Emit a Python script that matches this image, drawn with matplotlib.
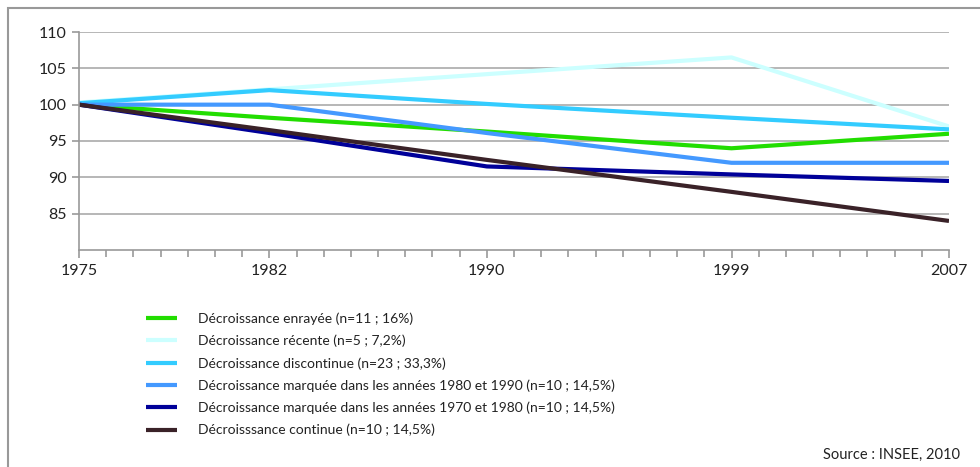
import matplotlib
matplotlib.use("Agg")
import matplotlib.pyplot as plt
from matplotlib.patches import Rectangle

plt.rcParams['font.family'] = ['Lato', 'DejaVu Sans']

# Données (indice base 100 en 1975)
years = [1975, 1982, 1990, 1999, 2007]
labels = [
    "Décroissance enrayée (n=11 ; 16%)",
    "Décroissance récente (n=5 ; 7,2%)",
    "Décroissance discontinue (n=23 ; 33,3%)",
    "Décroissance marquée dans les années 1980 et 1990 (n=10 ; 14,5%)",
    "Décroissance marquée dans les années 1970 et 1980 (n=10 ; 14,5%)",
    "Décroisssance continue (n=10 ; 14,5%)",
]
enrayee = [100, 98.2, 96.3, 94.0, 96.0]
recente = [100.3, 102.1, 104.2, 106.5, 97.0]
discontinue = [100.2, 102.0, 100.1, 98.2, 96.6]
marquee_80_90 = [100, 100, 96.1, 92.0, 92.0]
marquee_70_80 = [100, 96.1, 91.5, 90.4, 89.5]
continue_ = [100, 96.5, 92.4, 88.0, 84.0]

series = [enrayee, recente, discontinue, marquee_80_90, marquee_70_80, continue_]
colors = ["#22dd00", "#ccffff", "#33ccff", "#4499ff", "#000099", "#3a2228"]

fig = plt.figure(figsize=(9.8, 4.67), dpi=100)
ax = fig.add_axes([79 / 980, 1 - 250 / 467, 870 / 980, 218 / 467])

# cadre extérieur (seuls les bords haut et gauche sont visibles)
fig.patches.append(Rectangle((8 / 980, -0.1), 1.2, 1 - 8 / 467 + 0.1,
                             transform=fig.transFigure, fill=False,
                             edgecolor="#999999", linewidth=1.5))

for vals, col, lab in zip(series, colors, labels):
    ax.plot(years, vals, color=col, linewidth=3, label=lab, solid_capstyle="butt")

ax.set_xlim(1975, 2007)
ax.set_ylim(80, 110)
ax.set_yticks([85, 90, 95, 100, 105, 110])
ax.set_xticks(years)
ax.set_xticks(range(1975, 2008), minor=True)
ax.yaxis.grid(True, color="#aaaaaa", linewidth=1.2)
ax.set_axisbelow(True)
for s in ["top", "right"]:
    ax.spines[s].set_visible(False)
for s in ["left", "bottom"]:
    ax.spines[s].set_color("#999999")
    ax.spines[s].set_linewidth(1.2)
ax.tick_params(axis="both", which="both", color="#999999", width=1.2, labelsize=11.5,
               labelcolor="#222222")
ax.tick_params(axis="x", which="major", length=6, pad=4)
ax.tick_params(axis="x", which="minor", length=5)
ax.tick_params(axis="y", length=5, pad=4)

fig.legend(loc="upper left", bbox_to_anchor=(133 / 980, 1 - 300 / 467), frameon=False,
           fontsize=10, handlelength=2.3, handletextpad=1.45, labelspacing=0.7,
           labelcolor="#222222")

fig.text(960 / 980, 1 - 455 / 467, "Source : INSEE, 2010", ha="right", va="center",
         fontsize=10.5, color="#222222")

fig.savefig("out.png", dpi=100)
